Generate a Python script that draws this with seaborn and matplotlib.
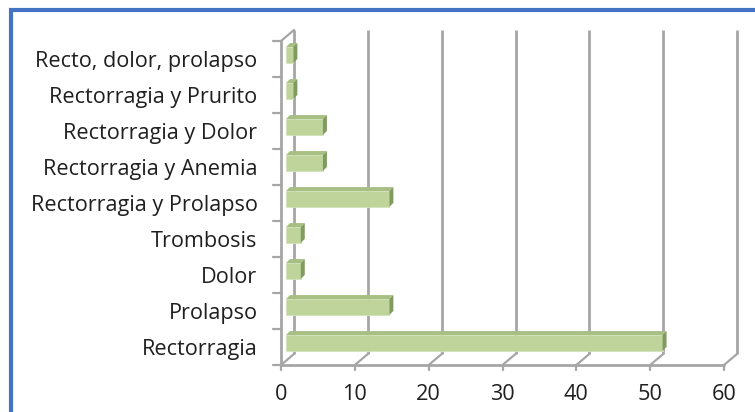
import matplotlib
matplotlib.use("Agg")
import matplotlib.pyplot as plt
import seaborn as sns
import pandas as pd
from matplotlib.patches import Polygon, Rectangle

# Síntomas de presentación (de arriba hacia abajo) y número de pacientes
categorias = [
    "Recto, dolor, prolapso",
    "Rectorragia y Prurito",
    "Rectorragia y Dolor",
    "Rectorragia y Anemia",
    "Rectorragia y Prolapso",
    "Trombosis",
    "Dolor",
    "Prolapso",
    "Rectorragia",
]
pacientes = [1, 1, 5, 5, 14, 2, 2, 14, 51]
ticks_x = [0, 10, 20, 30, 40, 50, 60]

df = pd.DataFrame({"sintoma": categorias, "n": pacientes})

sns.set_theme(style="white")
plt.rcParams["font.family"] = ["Open Sans", "DejaVu Sans"]

W, H = 755, 412
fig = plt.figure(figsize=(W / 100, H / 100), dpi=100)
fig.patch.set_facecolor("white")

# front plane of the 3-D box, in pixels
left_px, right_px, top_px, bottom_px = 281, 724, 41, 365
ax = fig.add_axes([left_px / W, 1 - bottom_px / H,
                   (right_px - left_px) / W, (bottom_px - top_px) / H])
ax.set_facecolor("none")

front = "#bed49b"
topc = "#a7bf82"
side = "#819a62"
grid = "#a6a6a6"
txt = "#1f1f1f"

sns.barplot(data=df, x="n", y="sintoma", order=categorias, orient="h",
            color=front, width=0.44, saturation=1, ax=ax, zorder=3,
            edgecolor="#d3e2bb", linewidth=0.6)

xmin, xmax = ticks_x[0], ticks_x[-1]
n = len(categorias)
ax.set_xlim(xmin, xmax)
ax.set_ylim(n - 0.5, -0.5)

# data units per pixel
px = (xmax - xmin) / (right_px - left_px)
py = n / (bottom_px - top_px)

# depth offsets (pixels): back wall, bar front face, bar thickness
back_dx, back_dy = 13, 11
bar_dx, bar_dy = 5, 4
depth_dx, depth_dy = 4, 4

# back wall gridlines and floor diagonals
for t in ticks_x:
    ax.plot([t + back_dx * px, t + back_dx * px],
            [n - 0.5 - back_dy * py, -0.5 - back_dy * py],
            color=grid, lw=2.0, zorder=1, clip_on=False, solid_capstyle="butt")
    ax.plot([t, t + back_dx * px], [n - 0.5, n - 0.5 - back_dy * py],
            color=grid, lw=1.6, zorder=1, clip_on=False)
    ax.plot([t, t], [n - 0.5, n - 0.5 + 5 * py],
            color=grid, lw=1.6, zorder=1, clip_on=False)

# front floor edge and left axis with its top diagonal
ax.plot([xmin, xmax], [n - 0.5, n - 0.5], color=grid, lw=2.0, zorder=2, clip_on=False)
ax.plot([xmin, xmin], [n - 0.5, -0.5], color=grid, lw=2.0, zorder=2, clip_on=False)
ax.plot([xmin, xmin + back_dx * px], [-0.5, -0.5 - back_dy * py],
        color=grid, lw=1.6, zorder=2, clip_on=False)
for k in range(n + 1):
    ax.plot([xmin - 8 * px, xmin], [k - 0.5, k - 0.5],
            color=grid, lw=1.6, zorder=2, clip_on=False)

# shift each bar back and add its top and end faces
for p in list(ax.patches):
    p.set_x(p.get_x() + bar_dx * px)
    p.set_y(p.get_y() - bar_dy * py)
    x0 = p.get_x()
    x1 = x0 + p.get_width()
    yt = p.get_y()
    yb = yt + p.get_height()
    ddx, ddy = depth_dx * px, depth_dy * py
    ax.add_patch(Polygon([(x0, yt), (x1, yt), (x1 + ddx, yt - ddy), (x0 + ddx, yt - ddy)],
                         closed=True, facecolor=topc, edgecolor="none", zorder=3,
                         clip_on=False))
    ax.add_patch(Polygon([(x1, yt), (x1, yb), (x1 + ddx, yb - ddy), (x1 + ddx, yt - ddy)],
                         closed=True, facecolor=side, edgecolor="none", zorder=3,
                         clip_on=False))

for s in ax.spines.values():
    s.set_visible(False)
ax.grid(False)
ax.set_xlabel("")
ax.set_ylabel("")
ax.set_xticks(ticks_x)
ax.set_xticklabels([str(t) for t in ticks_x])
ax.tick_params(axis="x", length=0, pad=14, labelsize=15.6, labelcolor=txt)
ax.tick_params(axis="y", length=0, pad=17, labelsize=15.6, labelcolor=txt)

# blue frame along the top and left edges
fig.add_artist(Rectangle((11 / W, -0.2), 1.5, 1.2 - 10 / H,
                         transform=fig.transFigure, facecolor="none",
                         edgecolor="#4472c4", lw=3.0, clip_on=False))

fig.savefig("out.png", dpi=100, facecolor="white")
